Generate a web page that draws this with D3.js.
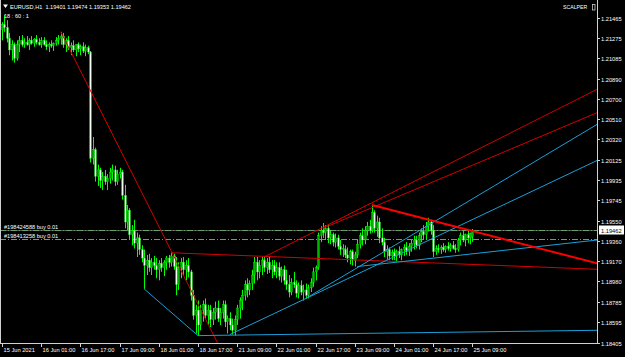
<!DOCTYPE html>
<html>
<head>
<meta charset="utf-8">
<script src="https://cdn.jsdelivr.net/npm/d3@7"></script>
<style>
  body { margin: 0; background: #000; }
  svg { display: block; }
</style>
</head>
<body>
<div id="chart"></div>
<script>
// EURUSD H1 candles, [open, high, low, close], 15 Jun 09:00 .. 25 Jun 09:00
const candles = [
  [1.2135,1.2142,1.2125,1.2140],[1.2140,1.2149,1.2133,1.2137],[1.2137,1.2144,1.2123,1.2127],[1.2127,1.2132,1.2111,1.2116],
  [1.2116,1.2125,1.2106,1.2121],[1.2121,1.2123,1.2104,1.2108],[1.2108,1.2125,1.2106,1.2121],[1.2121,1.2129,1.2114,1.2125],
  [1.2125,1.2130,1.2119,1.2121],[1.2121,1.2127,1.2118,1.2123],[1.2123,1.2129,1.2120,1.2121],[1.2121,1.2127,1.2116,1.2125],
  [1.2125,1.2129,1.2121,1.2122],[1.2122,1.2127,1.2119,1.2126],[1.2126,1.2130,1.2121,1.2123],[1.2123,1.2127,1.2120,1.2121],
  [1.2121,1.2128,1.2118,1.2125],[1.2125,1.2128,1.2120,1.2121],[1.2121,1.2125,1.2116,1.2119],[1.2119,1.2123,1.2114,1.2121],
  [1.2121,1.2125,1.2118,1.2120],[1.2120,1.2123,1.2115,1.2122],[1.2122,1.2128,1.2120,1.2125],[1.2125,1.2130,1.2121,1.2127],
  [1.2127,1.2133,1.2121,1.2129],[1.2129,1.2132,1.2118,1.2121],[1.2121,1.2127,1.2114,1.2125],[1.2125,1.2129,1.2116,1.2118],
  [1.2118,1.2123,1.2111,1.2120],[1.2120,1.2125,1.2114,1.2116],[1.2116,1.2121,1.2110,1.2121],[1.2121,1.2123,1.2114,1.2117],
  [1.2117,1.2121,1.2111,1.2119],[1.2119,1.2123,1.2113,1.2115],[1.2115,1.2121,1.2110,1.2118],[1.2118,1.2120,1.2112,1.2114],
  [1.2114,1.2115,1.2010,1.2014],[1.2014,1.2034,1.2008,1.2022],[1.2022,1.2024,1.1992,1.1997],[1.1997,1.2008,1.1988,1.2003],
  [1.2003,1.2005,1.1986,1.1993],[1.1993,1.2001,1.1984,1.1997],[1.1997,1.2003,1.1989,1.1992],[1.1992,1.1999,1.1984,1.1995],
  [1.1995,1.2005,1.1990,1.2001],[1.2001,1.2008,1.1993,1.2003],[1.2003,1.2007,1.1988,1.1992],[1.1992,1.2003,1.1989,1.1999],
  [1.1999,1.2005,1.1995,1.2001],[1.2001,1.2003,1.1975,1.1979],[1.1979,1.1989,1.1948,1.1954],[1.1954,1.1970,1.1946,1.1965],
  [1.1965,1.1967,1.1937,1.1942],[1.1942,1.1951,1.1932,1.1946],[1.1946,1.1956,1.1929,1.1934],[1.1934,1.1944,1.1921,1.1939],
  [1.1939,1.1942,1.1923,1.1928],[1.1928,1.1932,1.1916,1.1920],[1.1920,1.1928,1.1891,1.1913],[1.1913,1.1923,1.1904,1.1918],
  [1.1918,1.1924,1.1907,1.1911],[1.1911,1.1920,1.1904,1.1916],[1.1916,1.1922,1.1909,1.1913],[1.1913,1.1920,1.1901,1.1909],
  [1.1909,1.1918,1.1899,1.1915],[1.1915,1.1920,1.1907,1.1911],[1.1911,1.1918,1.1903,1.1916],[1.1916,1.1922,1.1909,1.1920],
  [1.1920,1.1923,1.1911,1.1916],[1.1916,1.1925,1.1912,1.1922],[1.1922,1.1924,1.1909,1.1912],[1.1912,1.1921,1.1885,1.1895],
  [1.1895,1.1916,1.1890,1.1911],[1.1911,1.1920,1.1901,1.1916],[1.1916,1.1921,1.1904,1.1909],[1.1909,1.1918,1.1899,1.1913],
  [1.1913,1.1920,1.1902,1.1907],[1.1907,1.1909,1.1880,1.1885],[1.1885,1.1890,1.1862,1.1866],[1.1866,1.1876,1.1849,1.1871],
  [1.1871,1.1880,1.1847,1.1857],[1.1857,1.1876,1.1852,1.1871],[1.1871,1.1880,1.1860,1.1876],[1.1876,1.1882,1.1863,1.1866],
  [1.1866,1.1876,1.1857,1.1871],[1.1871,1.1876,1.1855,1.1862],[1.1862,1.1873,1.1857,1.1869],[1.1869,1.1879,1.1862,1.1873],
  [1.1873,1.1880,1.1860,1.1863],[1.1863,1.1873,1.1857,1.1869],[1.1869,1.1880,1.1863,1.1876],[1.1876,1.1880,1.1855,1.1860],
  [1.1860,1.1866,1.1849,1.1863],[1.1863,1.1869,1.1852,1.1857],[1.1857,1.1863,1.1848,1.1852],[1.1852,1.1866,1.1847,1.1862],
  [1.1862,1.1876,1.1857,1.1873],[1.1873,1.1883,1.1863,1.1880],[1.1880,1.1890,1.1871,1.1885],[1.1885,1.1899,1.1880,1.1895],
  [1.1895,1.1901,1.1883,1.1890],[1.1890,1.1899,1.1885,1.1896],[1.1896,1.1909,1.1890,1.1904],[1.1904,1.1921,1.1896,1.1916],
  [1.1916,1.1921,1.1899,1.1907],[1.1907,1.1918,1.1901,1.1913],[1.1913,1.1921,1.1904,1.1918],[1.1918,1.1922,1.1907,1.1911],
  [1.1911,1.1920,1.1905,1.1916],[1.1916,1.1921,1.1906,1.1909],[1.1909,1.1918,1.1901,1.1913],[1.1913,1.1918,1.1904,1.1907],
  [1.1907,1.1916,1.1901,1.1911],[1.1911,1.1916,1.1899,1.1903],[1.1903,1.1912,1.1897,1.1909],[1.1909,1.1913,1.1895,1.1899],
  [1.1899,1.1909,1.1890,1.1895],[1.1895,1.1904,1.1883,1.1888],[1.1888,1.1901,1.1885,1.1897],[1.1897,1.1907,1.1892,1.1895],
  [1.1895,1.1899,1.1883,1.1887],[1.1887,1.1897,1.1882,1.1894],[1.1894,1.1899,1.1885,1.1888],[1.1888,1.1895,1.1880,1.1890],
  [1.1890,1.1896,1.1882,1.1885],[1.1885,1.1895,1.1882,1.1892],[1.1892,1.1901,1.1888,1.1897],[1.1897,1.1911,1.1893,1.1907],
  [1.1907,1.1913,1.1899,1.1911],[1.1911,1.1944,1.1909,1.1941],[1.1941,1.1950,1.1935,1.1946],[1.1946,1.1953,1.1939,1.1944],
  [1.1944,1.1951,1.1937,1.1948],[1.1948,1.1952,1.1934,1.1939],[1.1939,1.1946,1.1933,1.1942],[1.1942,1.1944,1.1931,1.1935],
  [1.1935,1.1943,1.1930,1.1939],[1.1939,1.1942,1.1928,1.1931],[1.1931,1.1937,1.1923,1.1928],[1.1928,1.1933,1.1921,1.1929],
  [1.1928,1.1932,1.1920,1.1923],[1.1923,1.1930,1.1916,1.1920],[1.1920,1.1928,1.1914,1.1926],[1.1926,1.1928,1.1913,1.1918],
  [1.1918,1.1926,1.1912,1.1923],[1.1923,1.1937,1.1920,1.1933],[1.1933,1.1944,1.1929,1.1941],[1.1941,1.1948,1.1932,1.1937],
  [1.1937,1.1950,1.1933,1.1946],[1.1946,1.1954,1.1941,1.1950],[1.1950,1.1956,1.1943,1.1946],[1.1946,1.1970,1.1944,1.1963],
  [1.1963,1.1965,1.1944,1.1948],[1.1948,1.1960,1.1940,1.1954],[1.1954,1.1958,1.1934,1.1939],[1.1939,1.1948,1.1932,1.1935],
  [1.1935,1.1939,1.1921,1.1926],[1.1926,1.1932,1.1918,1.1928],[1.1928,1.1930,1.1918,1.1922],[1.1922,1.1928,1.1918,1.1925],
  [1.1925,1.1929,1.1918,1.1922],[1.1922,1.1928,1.1916,1.1926],[1.1926,1.1931,1.1920,1.1923],[1.1923,1.1929,1.1918,1.1928],
  [1.1928,1.1933,1.1922,1.1930],[1.1930,1.1935,1.1923,1.1926],[1.1926,1.1934,1.1922,1.1931],[1.1931,1.1937,1.1926,1.1934],
  [1.1934,1.1941,1.1928,1.1937],[1.1937,1.1941,1.1929,1.1932],[1.1932,1.1944,1.1928,1.1941],[1.1941,1.1948,1.1935,1.1945],
  [1.1945,1.1951,1.1937,1.1942],[1.1942,1.1954,1.1937,1.1950],[1.1950,1.1958,1.1945,1.1954],[1.1954,1.1956,1.1942,1.1946],
  [1.1946,1.1951,1.1921,1.1926],[1.1926,1.1932,1.1923,1.1929],[1.1929,1.1933,1.1925,1.1928],[1.1928,1.1932,1.1924,1.1930],
  [1.1930,1.1934,1.1926,1.1928],[1.1928,1.1932,1.1925,1.1931],[1.1931,1.1935,1.1927,1.1929],[1.1929,1.1934,1.1926,1.1932],
  [1.1932,1.1936,1.1928,1.1929],[1.1929,1.1933,1.1925,1.1928],[1.1928,1.1939,1.1926,1.1937],[1.1937,1.1944,1.1932,1.1941],
  [1.1941,1.1946,1.1935,1.1937],[1.1937,1.1943,1.1931,1.1942],[1.1942,1.1947,1.1934,1.1939],[1.1939,1.1944,1.1933,1.1943],
  [1.19401,1.19474,1.19353,1.19462]
];

// price axis labels
const priceTicks = [1.21465, 1.21275, 1.21085, 1.20890, 1.20700, 1.20510, 1.20320, 1.20125, 1.19935,
                    1.19745, 1.19550, 1.19360, 1.19170, 1.18980, 1.18785, 1.18595, 1.18405];

// time axis: bar index -> label
const timeTickBars = [0, 16, 32, 48, 64, 80, 96, 112, 128, 144, 160, 176, 192];
const timeTickLabels = ["15 Jun 2021", "16 Jun 01:00", "16 Jun 17:00", "17 Jun 09:00", "18 Jun 01:00",
  "18 Jun 17:00", "21 Jun 09:00", "22 Jun 01:00", "22 Jun 17:00", "23 Jun 09:00", "24 Jun 01:00",
  "24 Jun 17:00", "25 Jun 09:00"];

// trendlines as [[bar, price], [bar, price]]
const redRays = [
  [[24, 1.2133], [88, 1.1840]],
  [[69, 1.1925], [192, 1.1914]],
  [[107, 1.1921], [243, 1.2079]],
  [[131, 1.1948], [243, 1.2057]]
];
const thickRedRay = [[151, 1.1970], [243, 1.1915]];
const blueSegments = [
  [[58, 1.1891], [80, 1.1847]]
];
const blueRays = [
  [[80, 1.1847], [243, 1.1852]],
  [[93, 1.1848], [243, 1.2012]],
  [[124, 1.1882], [243, 1.2046]],
  [[145, 1.1912], [243, 1.1937]]
];

// open orders
const orderIds = ["#198424588 buy 0.01", "#198413258 buy 0.01"];
const orderPrices = [1.19462, 1.19378];
const bid = 1.19462;
const ohlcText = "EURUSD,H1  1.19401 1.19474 1.19353 1.19462";

const w = 625;
const h = 357;
const plotRight = 597;
const plotBottom = 343;
const font = "'Liberation Sans', Arial, sans-serif";

const x = d3.scaleLinear().domain([0, 192]).range([2, 472.4]);
const y = d3.scaleLinear().domain([1.18405, 1.21465]).range([342.5, 17.5]);

let svg = d3.select("#chart")
  .append("svg")
  .attr("width", w)
  .attr("height", h)
  .style("background", "#000");

svg.append("clipPath").attr("id", "plot")
  .append("rect").attr("x", 0).attr("y", 0).attr("width", plotRight).attr("height", plotBottom);

let plot = svg.append("g").attr("clip-path", "url(#plot)");

// extend a two point line far to the right (ray)
function extend(line, toBar) {
  let [a, b] = line;
  let slope = (b[1] - a[1]) / (b[0] - a[0]);
  return [a, [toBar, a[1] + slope * (toBar - a[0])]];
}

// order lines (green dash-dot) and the grey bid line over the first one
orderPrices.forEach(function (p) {
  plot.append("line")
    .attr("x1", 0).attr("x2", plotRight)
    .attr("y1", Math.round(y(p)) + 0.5).attr("y2", Math.round(y(p)) + 0.5)
    .attr("stroke", "#32c832").attr("stroke-width", 1)
    .attr("stroke-dasharray", "6,2,1,2");
});
plot.append("line")
  .attr("x1", 0).attr("x2", plotRight)
  .attr("y1", Math.round(y(bid)) + 0.5).attr("y2", Math.round(y(bid)) + 0.5)
  .attr("stroke", "#8a8a8a").attr("stroke-width", 1).attr("stroke-opacity", 0.6);

// candles
let bw = 1.7;
candles.forEach(function (c, i) {
  let cx = Math.round(x(i)) + 0.5;
  let bull = c[3] >= c[0];
  plot.append("line")
    .attr("x1", cx).attr("x2", cx)
    .attr("y1", y(c[1])).attr("y2", y(c[2]))
    .attr("stroke", "#00ff00").attr("stroke-width", 1);
  let top = y(Math.max(c[0], c[3]));
  let bot = y(Math.min(c[0], c[3]));
  plot.append("rect")
    .attr("x", cx - bw / 2).attr("y", top)
    .attr("width", bw).attr("height", Math.max(bot - top, 0.8))
    .attr("fill", bull ? "#00b400" : "#f0fff0")
    .attr("stroke", "#00ff00").attr("stroke-width", 0.4);
});

// trendlines
function drawLine(l, colour, width) {
  plot.append("line")
    .attr("x1", x(l[0][0])).attr("y1", y(l[0][1]))
    .attr("x2", x(l[1][0])).attr("y2", y(l[1][1]))
    .attr("stroke", colour).attr("stroke-width", width);
}
redRays.forEach(function (l) { drawLine(extend(l, 300), "#d40000", 1); });
blueSegments.forEach(function (l) { drawLine(l, "#1c9fd8", 1); });
blueRays.forEach(function (l) { drawLine(extend(l, 300), "#1c9fd8", 1); });
drawLine(extend(thickRedRay, 300), "#ff0000", 2);

// frame
svg.append("line").attr("x1", 0.5).attr("x2", 0.5).attr("y1", 0).attr("y2", plotBottom + 0.5)
  .attr("stroke", "#d0d0d0");
svg.append("line").attr("x1", plotRight + 0.5).attr("x2", plotRight + 0.5).attr("y1", 0).attr("y2", plotBottom + 0.5)
  .attr("stroke", "#d0d0d0");
svg.append("line").attr("x1", 0).attr("x2", plotRight + 0.5).attr("y1", plotBottom + 0.5).attr("y2", plotBottom + 0.5)
  .attr("stroke", "#d0d0d0");

// price axis
priceTicks.forEach(function (p) {
  let ty = Math.round(y(p)) + 0.5;
  svg.append("line").attr("x1", plotRight).attr("x2", plotRight + 3).attr("y1", ty).attr("y2", ty)
    .attr("stroke", "#d0d0d0");
  svg.append("text").attr("x", 601).attr("y", ty + 2)
    .attr("fill", "#ffffff").attr("font-family", font).attr("font-size", "5.7px")
    .text(p.toFixed(5));
});

// current price box
let by = Math.round(y(bid));
svg.append("rect").attr("x", 599).attr("y", by - 4.5).attr("width", 25).attr("height", 9)
  .attr("fill", "#ffffff");
svg.append("text").attr("x", 601).attr("y", by + 2.5)
  .attr("fill", "#000").attr("font-family", font).attr("font-size", "5.7px")
  .text(bid.toFixed(5));

// time axis
timeTickBars.forEach(function (b, k) {
  let tx = Math.round(x(b)) + 0.5;
  svg.append("line").attr("x1", tx).attr("x2", tx).attr("y1", plotBottom).attr("y2", plotBottom + 4)
    .attr("stroke", "#d0d0d0");
  svg.append("text").attr("x", tx + 1).attr("y", 352)
    .attr("fill", "#ffffff").attr("font-family", font).attr("font-size", "5.7px")
    .text(timeTickLabels[k]);
});

// order labels
orderIds.forEach(function (t, k) {
  svg.append("text").attr("x", 4).attr("y", Math.round(y(orderPrices[k])) - 1.5)
    .attr("fill", "#ffffff").attr("font-family", font).attr("font-size", "5.6px")
    .text(t);
});

// header
svg.append("path").attr("d", "M3,4.5 L8,4.5 L5.5,8 Z").attr("fill", "#ffffff");
svg.append("text").attr("x", 10).attr("y", 9)
  .attr("fill", "#ffffff").attr("font-family", font).attr("font-size", "5.6px")
  .style("white-space", "pre")
  .text(ohlcText);
svg.append("text").attr("x", 4).attr("y", 18)
  .attr("fill", "#ffffff").attr("font-family", font).attr("font-size", "5.6px")
  .style("white-space", "pre")
  .text("18 : 60 : 1");
svg.append("text").attr("x", 563).attr("y", 9)
  .attr("fill", "#ffffff").attr("font-family", font).attr("font-size", "5.2px")
  .text("SCALPER");
svg.append("rect").attr("x", 592.5).attr("y", 4.5).attr("width", 2.5).attr("height", 5.5)
  .attr("fill", "none").attr("stroke", "#c8c8c8").attr("stroke-width", 0.8);
</script>
</body>
</html>
